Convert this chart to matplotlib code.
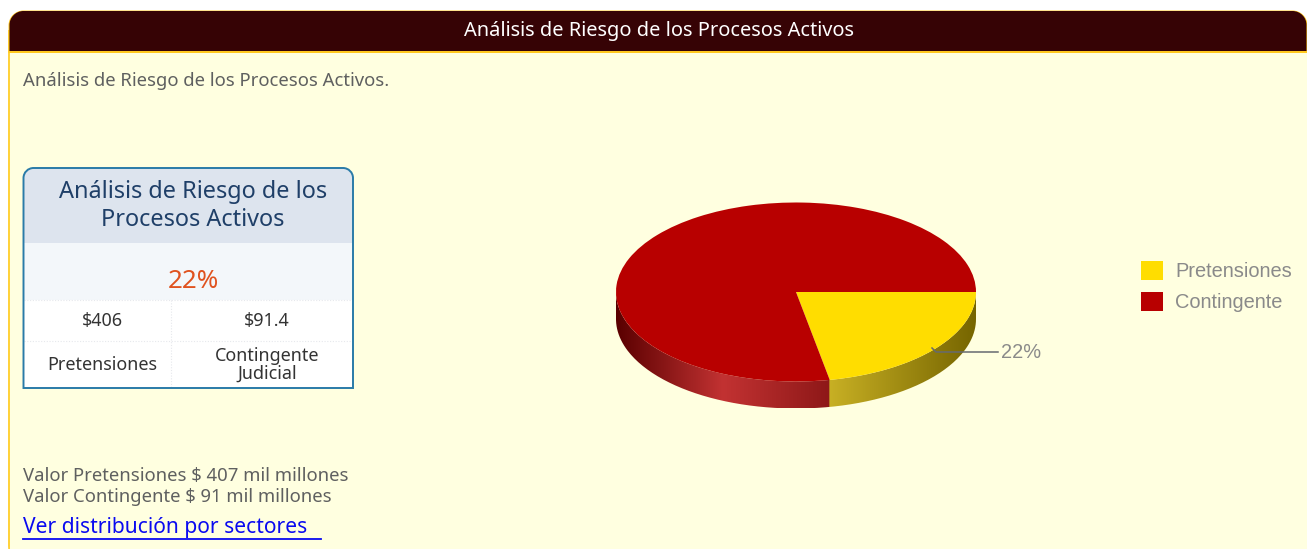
#!/usr/bin/env python3
import numpy as np
import matplotlib
matplotlib.use("Agg")
import matplotlib.pyplot as plt
from matplotlib.patches import FancyBboxPatch, Rectangle, PathPatch
from matplotlib.path import Path as MplPath

labels = ["Pretensiones", "Contingente"]
shares = [22, 78]
pie_colors = ["#FFDD00", "#B80000"]

page_title = "Análisis de Riesgo de los Procesos Activos"
page_sub = "Análisis de Riesgo de los Procesos Activos."
kpi_title = ["Análisis de Riesgo de los", "Procesos Activos"]
kpi_value = "22%"
kpi_amounts = ["$406", "$91.4"]
kpi_names = ["Pretensiones", "Contingente\nJudicial"]
footer_lines = ["Valor Pretensiones $ 407 mil millones", "Valor Contingente $ 91 mil millones"]
link_text = "Ver distribución por sectores"

W, H = 1307, 550
UI_FONT = ["Noto Sans", "DejaVu Sans"]
CHART_FONT = ["Liberation Sans", "DejaVu Sans"]


def pt(px):
    return px * 0.72


def rounded_top(x0, y0, x1, y1, r):
    # caja con esquinas superiores redondeadas, y hacia abajo
    k = 0.45 * r
    verts = [(x0, y1), (x0, y0 + r), (x0, y0 + k), (x0 + k, y0), (x0 + r, y0),
             (x1 - r, y0), (x1 - k, y0), (x1, y0 + k), (x1, y0 + r), (x1, y1), (x0, y1)]
    codes = [MplPath.MOVETO, MplPath.LINETO, MplPath.CURVE4, MplPath.CURVE4, MplPath.CURVE4,
             MplPath.LINETO, MplPath.CURVE4, MplPath.CURVE4, MplPath.CURVE4, MplPath.LINETO, MplPath.CLOSEPOLY]
    return MplPath(verts, codes)


fig = plt.figure(figsize=(W / 100, H / 100), dpi=100, facecolor="white")
ax = fig.add_axes([0, 0, 1, 1])
ax.set_xlim(0, W)
ax.set_ylim(H, 0)
ax.axis("off")

# panel
ax.add_patch(FancyBboxPatch((12, 30), W + 30, H, boxstyle="round,pad=0,rounding_size=16",
                            fc="#FFD23C", ec="none", zorder=1))
ax.add_patch(Rectangle((8, 30), 20, 505, fc="#FFD23C", ec="none", zorder=1))
ax.add_patch(FancyBboxPatch((8, 470), 30, 90, boxstyle="round,pad=0,rounding_size=14",
                            fc="#FFD23C", ec="none", zorder=1))
ax.add_patch(Rectangle((10, 50), W, 499, fc="#FFFFE0", ec="none", zorder=2))
ax.add_patch(Rectangle((0, 549), W, 1, fc="white", ec="none", zorder=2))

# cabecera
ax.add_patch(PathPatch(rounded_top(8.5, 10.5, W + 0.5, 53, 15), fc="#FFC81E", ec="none", zorder=3))
ax.add_patch(PathPatch(rounded_top(9.5, 11, W - 0.5, 51, 14), fc="#360305", ec="none", zorder=4))
ax.text(659, 31, page_title, color="white", fontsize=pt(20), fontweight="bold", family=UI_FONT,
        ha="center", va="center", zorder=5)
ax.text(23, 81, page_sub, color="#5F6060", fontsize=pt(18.5), fontweight="medium", family=UI_FONT,
        ha="left", va="center", zorder=5)

# tarjeta
box_path = rounded_top(23.5, 168, 353, 388, 10)
ax.add_patch(PathPatch(box_path, fc="white", ec="none", zorder=3))
for y0, y1, col in [(168, 243, "#DDE4EE"), (243, 300, "#F3F7FA")]:
    r = Rectangle((23, y0), 331, y1 - y0, fc=col, ec="none", zorder=3)
    ax.add_patch(r)
    r.set_clip_path(PathPatch(box_path, transform=ax.transData))
for y in [300, 341]:
    ax.plot([24, 353], [y, y], color="#E6E8EC", lw=0.8, ls=(0, (1, 1.5)), zorder=4)
ax.plot([171, 171], [300, 388], color="#E6E8EC", lw=0.8, ls=(0, (1, 1.5)), zorder=4)
ax.add_patch(PathPatch(box_path, fc="none", ec="#2A7BA8", lw=1.4, zorder=5))
ax.text(193, 192, kpi_title[0], color="#1F3F68", fontsize=pt(23.5), family=UI_FONT, ha="center", va="center", zorder=6)
ax.text(193, 220, kpi_title[1], color="#1F3F68", fontsize=pt(23.5), family=UI_FONT, ha="center", va="center", zorder=6)
ax.text(193, 282, kpi_value, color="#E0531F", fontsize=pt(26), fontweight="medium", family=UI_FONT, ha="center", va="center", zorder=6)
for cx, amount, name in zip([102, 267], kpi_amounts, kpi_names):
    ax.text(cx, 321, amount, color="#333333", fontsize=pt(18), family=UI_FONT, ha="center", va="center", zorder=6)
    ax.text(cx, 365, name, color="#333333", fontsize=pt(18), family=UI_FONT, ha="center", va="center",
            linespacing=1.0, zorder=6)

# pie: pared lateral con degradado
cx, cy, rx, ry, depth = 796, 292, 180, 89.5, 27
split = np.deg2rad(360 * shares[0] / sum(shares))
split_x = cx + rx * np.cos(split)
t = np.linspace(0, np.pi, 200)
wall = MplPath(np.vstack([np.column_stack([cx + rx * np.cos(t), cy + ry * np.sin(t) + depth]),
                          np.column_stack([cx + rx * np.cos(t[::-1]), cy + ry * np.sin(t[::-1])])]))
stops_x = [cx - rx, 723, split_x - 0.01, split_x, cx + rx]
stops_c = np.array([matplotlib.colors.to_rgb(c) for c in ["#5A0000", "#C23232", "#8E1818", "#C8B024", "#766500"]])
xs = np.arange(cx - rx, cx + rx + 1)
grad = np.stack([np.interp(xs, stops_x, stops_c[:, i]) for i in range(3)], axis=1)[None, :, :]
im = ax.imshow(grad, extent=[cx - rx, cx + rx, cy + ry + depth, cy], aspect="auto", zorder=3)
im.set_clip_path(PathPatch(wall, transform=ax.transData))
ax.set_xlim(0, W)
ax.set_ylim(H, 0)

# pie: tapa, a través de ax.pie en un eje sin aspecto fijo
ax_pie = fig.add_axes([(cx - rx) / W, 1 - (cy + ry) / H, 2 * rx / W, 2 * ry / H], facecolor="none")
wedges, _ = ax_pie.pie(shares, colors=pie_colors, startangle=0, counterclock=False, radius=1.0)
ax_pie.set_aspect("auto")
ax_pie.set_xlim(-1, 1)
ax_pie.set_ylim(-1, 1)

# etiqueta
ax_top = fig.add_axes([0, 0, 1, 1], facecolor="none")
ax_top.set_xlim(0, W)
ax_top.set_ylim(H, 0)
ax_top.axis("off")
ax_top.plot([932, 936, 998], [348, 352, 352], color="#666A70", lw=1.1)
ax_top.text(1001, 352, f"{shares[0]}%", color="#8A8A8A", fontsize=pt(20), family=CHART_FONT, ha="left", va="center")

leg = ax_top.legend(wedges, labels, loc="upper left", bbox_to_anchor=(1135 / W, 1 - 255 / H),
                    bbox_transform=fig.transFigure, frameon=False, prop={"family": CHART_FONT, "size": pt(20)},
                    handlelength=1.1, handleheight=1.1, handletextpad=0.6, labelspacing=0.52, borderpad=0.3,
                    borderaxespad=0, labelcolor="#8A8A8A")

# pie de panel
for y, line in zip([476, 497], footer_lines):
    ax_top.text(23, y, line, color="#5F6060", fontsize=pt(18.5), fontweight="medium", family=UI_FONT, ha="left", va="center")
ax_top.text(23, 528, link_text, color="#0A0AF0", fontsize=pt(21), fontweight="medium", family=UI_FONT, ha="left", va="center")
ax_top.plot([23, 321], [539, 539], color="#0A0AF0", lw=1.3)

fig.savefig("out.png", dpi=100, facecolor="white")
